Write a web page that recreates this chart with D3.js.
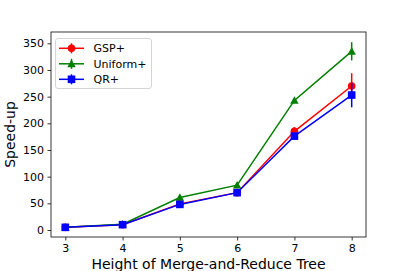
<!DOCTYPE html>
<html><head><meta charset="utf-8">
<script src="https://cdn.jsdelivr.net/npm/d3@7"></script>
<style>body{margin:0;background:#fff}svg{display:block}text{font-family:"DejaVu Sans",sans-serif}</style>
</head><body><svg id="c" width="407" height="271"></svg>
<script>
const heights = [3, 4, 5, 6, 7, 8];
const gspMean = [5, 10, 49, 70, 185, 270];
const gspErr  = [1, 1, 2, 2, 8, 24];
const uniMean = [5, 11, 61, 84, 243, 335];
const uniErr  = [1, 1, 2, 2, 3, 17];
const qrMean  = [5, 10, 48, 70, 176, 253];
const qrErr   = [1, 1, 2, 2, 6, 23];
const yTicks = [0, 50, 100, 150, 200, 250, 300, 350];
const seriesNames = ["GSP+", "Uniform+", "QR+"];
const seriesColors = ["#ff0000", "#008000", "#0000ff"];
const seriesShapes = ["circle", "triangle", "square"];

const svg = d3.select("#c");
const L = 51, R = 366, T = 32, B = 237;
const x = d3.scaleLinear().domain([2.75, 8.25]).range([L, R]);
const y = d3.scaleLinear().domain([-13.1, 371.2]).range([B, T]);

const series = [
  {name: seriesNames[0], mean: gspMean, err: gspErr},
  {name: seriesNames[1], mean: uniMean, err: uniErr},
  {name: seriesNames[2], mean: qrMean, err: qrErr}
];

function marker(g, shape, color, cx, cy) {
  if (shape === "circle") {
    g.append("circle").attr("cx", cx).attr("cy", cy).attr("r", 3.8).attr("fill", color);
  } else if (shape === "triangle") {
    const s = 4.2;
    g.append("path").attr("d", `M${cx},${cy - s}L${cx + s},${cy + s * 0.8}L${cx - s},${cy + s * 0.8}Z`).attr("fill", color);
  } else {
    g.append("rect").attr("x", cx - 3.8).attr("y", cy - 3.8).attr("width", 7.6).attr("height", 7.6).attr("fill", color);
  }
}

// axes
const xAxis = d3.axisBottom(x).tickValues(heights).tickSize(3.5).tickPadding(3.5).tickFormat(d3.format("d"));
const yAxis = d3.axisLeft(y).tickValues(yTicks).tickSize(3.5).tickPadding(3.5);
const gx = svg.append("g").attr("transform", `translate(0,${B})`).call(xAxis);
const gy = svg.append("g").attr("transform", `translate(${L},0)`).call(yAxis);
[gx, gy].forEach(g => {
  g.select(".domain").remove();
  g.selectAll("text").attr("font-size", 11).attr("fill", "#000").attr("font-family", "DejaVu Sans");
  g.selectAll("line").attr("stroke", "#000").attr("stroke-width", 0.8);
});

// series
const lineGen = d3.line().x((d, i) => x(heights[i])).y(d => y(d));
series.forEach((s, k) => {
  const c = seriesColors[k];
  const g = svg.append("g");
  g.append("path").attr("d", lineGen(s.mean)).attr("fill", "none").attr("stroke", c).attr("stroke-width", 1.5);
  s.mean.forEach((m, i) => {
    g.append("line").attr("x1", x(heights[i])).attr("x2", x(heights[i]))
      .attr("y1", y(m - s.err[i])).attr("y2", y(m + s.err[i]))
      .attr("stroke", c).attr("stroke-width", 1.5);
    marker(g, seriesShapes[k], c, x(heights[i]), y(m));
  });
});

// frame
svg.append("rect").attr("x", L).attr("y", T).attr("width", R - L).attr("height", B - T)
  .attr("fill", "none").attr("stroke", "#222").attr("stroke-width", 0.9);

// legend
const lg = svg.append("g");
lg.append("rect").attr("x", 55.5).attr("y", 38.5).attr("width", 96).attr("height", 50).attr("rx", 2.5)
  .attr("fill", "#fff").attr("fill-opacity", 0.8).attr("stroke", "#d0d0d0").attr("stroke-width", 0.9);
series.forEach((s, k) => {
  const yy = 48.3 + k * 15.5, c = seriesColors[k];
  lg.append("line").attr("x1", 59).attr("x2", 84).attr("y1", yy).attr("y2", yy).attr("stroke", c).attr("stroke-width", 1.5);
  lg.append("line").attr("x1", 71.5).attr("x2", 71.5).attr("y1", yy - 5).attr("y2", yy + 5).attr("stroke", c).attr("stroke-width", 1.5);
  marker(lg, seriesShapes[k], c, 71.5, yy);
  lg.append("text").attr("x", 93.5).attr("y", yy).attr("dy", "0.36em").attr("font-size", 11).text(s.name);
});

// axis labels
svg.append("text").attr("x", (L + R) / 2).attr("y", 268.5).attr("text-anchor", "middle")
  .attr("font-size", 14).text("Height of Merge-and-Reduce Tree");
svg.append("text").attr("transform", `translate(15,${(T + B) / 2}) rotate(-90)`).attr("text-anchor", "middle")
  .attr("font-size", 14).text("Speed-up");
</script></body></html>
